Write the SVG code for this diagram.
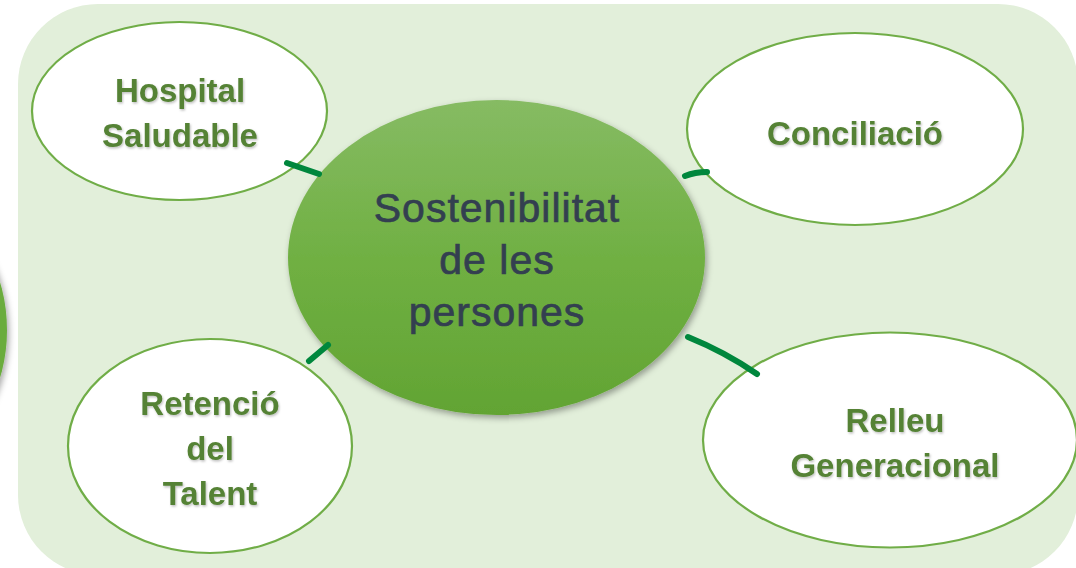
<svg xmlns="http://www.w3.org/2000/svg" width="1076" height="568" viewBox="0 0 1076 568">
  <defs>
    <linearGradient id="gCenter" x1="0" y1="0" x2="0" y2="1">
      <stop offset="0" stop-color="#86bb63"/>
      <stop offset="0.5" stop-color="#70b043"/>
      <stop offset="1" stop-color="#62a433"/>
    </linearGradient>
    <filter id="shadow" x="-20%" y="-20%" width="140%" height="140%">
      <feDropShadow dx="2" dy="3" stdDeviation="3" flood-color="#000" flood-opacity="0.35"/>
    </filter>
    <filter id="tshadow" x="-10%" y="-10%" width="120%" height="130%">
      <feDropShadow dx="1" dy="1.5" stdDeviation="1" flood-color="#000" flood-opacity="0.25"/>
    </filter>
  </defs>
  <style>
    .outer { fill: #ffffff; stroke: #70ad47; stroke-width: 2.2; }
    .lbl { font-family: "Liberation Sans", Arial, sans-serif; font-weight: bold; font-size: 33px; fill: #548235; text-anchor: middle; filter: url(#tshadow); }
    .center-lbl { font-family: "Liberation Sans", Arial, sans-serif; font-size: 41px; fill: #333f50; stroke: #333f50; stroke-width: 0.7; text-anchor: middle; letter-spacing: 1px; }
    .conn { fill: none; stroke: #00873d; stroke-width: 6; stroke-linecap: round; }
  </style>

  <rect id="background" x="18" y="4" width="1060" height="571" rx="80" ry="80" fill="#e2efda"/>

  <g id="partial-left">
    <ellipse cx="-60" cy="330" rx="67" ry="108" fill="#6aac3e" filter="url(#shadow)"/>
  </g>

  <g id="node-hospital">
    <ellipse class="outer" cx="179.5" cy="111" rx="147.5" ry="89"/>
    <text class="lbl" x="180" y="102">Hospital</text>
    <text class="lbl" x="180" y="147">Saludable</text>
  </g>

  <g id="node-conciliacio">
    <ellipse class="outer" cx="855" cy="129" rx="168" ry="96"/>
    <text class="lbl" x="855" y="145">Conciliació</text>
  </g>

  <g id="node-relleu">
    <ellipse class="outer" cx="890" cy="440" rx="187" ry="107.5"/>
    <text class="lbl" x="895" y="432">Relleu</text>
    <text class="lbl" x="895" y="477">Generacional</text>
  </g>

  <g id="node-retencio">
    <ellipse class="outer" cx="210" cy="446" rx="142" ry="107"/>
    <text class="lbl" x="210" y="415">Retenció</text>
    <text class="lbl" x="210" y="460">del</text>
    <text class="lbl" x="210" y="505">Talent</text>
  </g>

  <g id="node-center">
    <ellipse cx="496.5" cy="257.5" rx="208.5" ry="157.5" fill="url(#gCenter)" filter="url(#shadow)"/>
    <text class="center-lbl" x="497" y="222">Sostenibilitat</text>
    <text class="center-lbl" x="497" y="274">de les</text>
    <text class="center-lbl" x="497" y="326">persones</text>
  </g>

  <g id="connectors">
    <path class="conn" d="M287 163 L319 174"/>
    <path class="conn" d="M685 176 Q695 172 707 172"/>
    <path class="conn" d="M688 337 Q725 352 757 374"/>
    <path class="conn" d="M328 345 L309 361"/>
  </g>
</svg>
